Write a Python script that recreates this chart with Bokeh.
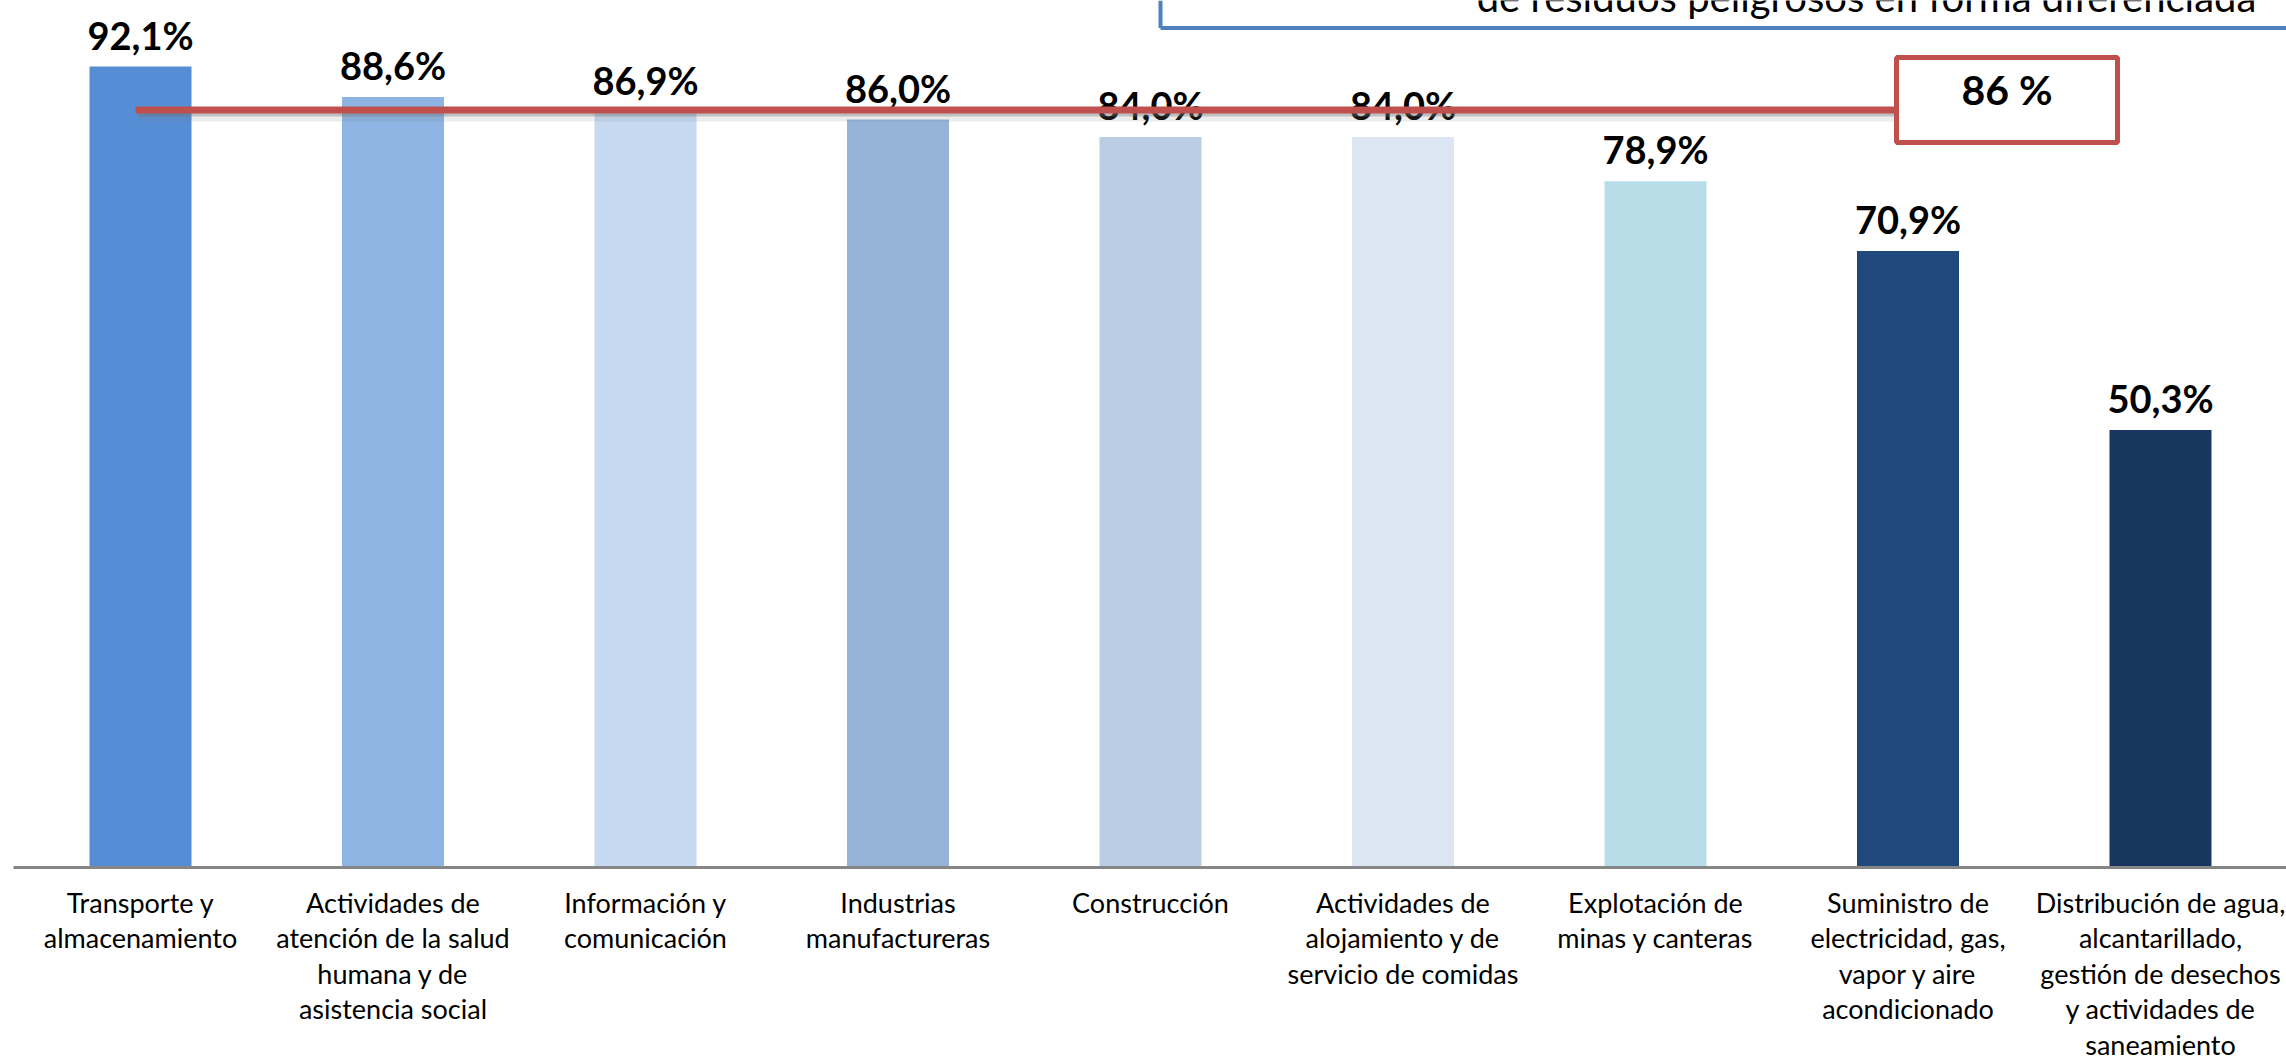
import numpy as np
from bokeh.plotting import figure
from bokeh.models import Range1d
from bokeh.core.properties import value
from bokeh.embed import file_html
from bokeh.resources import INLINE

# ---------------- data ----------------
categories = [
    "Transporte y\nalmacenamiento",
    "Actividades de\natención de la salud\nhumana y de\nasistencia social",
    "Información y\ncomunicación",
    "Industrias\nmanufactureras",
    "Construcción",
    "Actividades de\nalojamiento y de\nservicio de comidas",
    "Explotación de\nminas y canteras",
    "Suministro de\nelectricidad, gas,\nvapor y aire\nacondicionado",
    "Distribución de agua,\nalcantarillado,\ngestión de desechos\ny actividades de\nsaneamiento",
]
values = [92.1, 88.6, 86.9, 86.0, 84.0, 84.0, 78.9, 70.9, 50.3]
bar_colors = ["#558ED5", "#8EB4E3", "#C6D9F1", "#95B3D7", "#B9CDE5",
              "#DCE6F2", "#B7DEE8", "#1F497D", "#17375E"]
ref_line_level = 87.1
ref_label = "86 %"
title_tail = "de residuos peligrosos en forma diferenciada"

# ---------------- geometry ----------------
W, H = 2286, 1060
SLOT = 252.5           # px per category
PX = 8.697             # px per percentage point
AXIS_Y = 867           # px from top where value 0 sits
x_start = -140 / SLOT
x_end = x_start + W / SLOT
y_end = AXIS_Y / PX
y_start = -(H - AXIS_Y) / PX

def fx(px):   # screen x -> data x
    return px / SLOT + x_start

def fy(py):   # screen y (from top) -> data y
    return (AXIS_Y - py) / PX

p = figure(width=W, height=H, output_backend="svg", toolbar_location=None,
           x_range=Range1d(x_start, x_end), y_range=Range1d(y_start, y_end),
           min_border=0, min_border_left=0, min_border_right=0,
           min_border_top=0, min_border_bottom=0)
p.xaxis.visible = False
p.yaxis.visible = False
p.xgrid.visible = False
p.ygrid.visible = False
p.outline_line_color = None
p.background_fill_color = "white"
p.border_fill_color = "white"

xs = np.arange(len(categories))

# bars
p.vbar(x=xs, top=values, bottom=0, width=102 / SLOT, fill_color=bar_colors,
       line_color=None)

# baseline axis
p.segment(x0=[fx(13)], y0=[0], x1=[x_end], y1=[0], line_color="#868686",
          line_width=3)

# value labels
labels = [f"{v:.1f}%".replace(".", ",") for v in values]
p.text(x=xs, y=values, text=labels, text_align="center",
       text_baseline="alphabetic", y_offset=-32,
       text_font=value("Lato"), text_font_style="bold",
       text_font_size="38px", text_color="black")

# category labels
p.text(x=xs, y=[0] * len(xs), text=categories, text_align="center",
       text_baseline="top", y_offset=18, text_line_height=1.08,
       text_font=value("Lato"), text_font_size="27px", text_color="black")

# reference line with shadow
lx0, lx1 = fx(135), fx(2000)
p.segment(x0=[lx0 + 0.01], y0=[ref_line_level - 6 / PX], x1=[lx1],
          y1=[ref_line_level - 6 / PX], line_color="#808080", line_alpha=0.15,
          line_width=11)
p.segment(x0=[lx0 + 0.01], y0=[ref_line_level - 3 / PX], x1=[lx1],
          y1=[ref_line_level - 3 / PX], line_color="#707070", line_alpha=0.35,
          line_width=7)
p.segment(x0=[lx0], y0=[ref_line_level], x1=[lx1], y1=[ref_line_level],
          line_color="#C0504D", line_width=7)

# reference label box
box_cx, box_cy = fx(2006.5), fy(99.5)
p.rect(x=[box_cx], y=[box_cy], width=221, height=85, width_units="screen",
       height_units="screen", fill_color="white", line_color="#C0504D",
       line_width=5)
p.text(x=[box_cx], y=[box_cy], text=[ref_label], text_align="center",
       text_baseline="middle", text_font=value("Lato"),
       text_font_style="bold", text_font_size="41px", text_color="black",
       y_offset=-11)

# partially visible title box at top
box_left = fx(1160)
p.segment(x0=[box_left], y0=[fy(27.5)], x1=[x_end], y1=[fy(27.5)],
          line_color="#4F81BD", line_width=4)
p.segment(x0=[box_left], y0=[fy(27.5)], x1=[box_left], y1=[y_end],
          line_color="#4F81BD", line_width=4)
p.text(x=[fx(1866)], y=[fy(1)], text=[title_tail], text_align="center",
       text_baseline="alphabetic", y_offset=-5, text_font=value("Lato"),
       text_font_size="40px", text_color="black")

open("out.html", "w").write(file_html(p, INLINE))
